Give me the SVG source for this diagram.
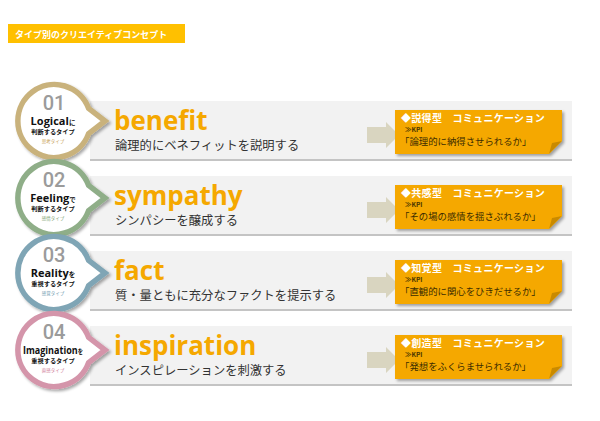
<svg xmlns="http://www.w3.org/2000/svg" width="600" height="421" viewBox="0 0 600 421">
<defs>
<filter id="sh" x="-20%" y="-20%" width="150%" height="150%">
<feGaussianBlur in="SourceAlpha" stdDeviation="1.5"/>
<feOffset dx="2" dy="2" result="b"/>
<feComponentTransfer><feFuncA type="linear" slope="0.35"/></feComponentTransfer>
<feMerge><feMergeNode/><feMergeNode in="SourceGraphic"/></feMerge>
</filter>
<path id="bubble" d="M88.6 108.4 A36.5 36.5 0 1 0 88.6 133.6 L105 121 Z"/>
<path id="arrow" d="M367 127 L386 127 L386 122 L399 135 L386 148 L386 143 L367 143 Z"/>
<path id="box" d="M395 110 H562 V141 L549 154 H395 Z"/>
<path id="fold" d="M562 141 L549 154 L552 143 Z"/>
</defs>
<style>
.bar{fill:#f2f2f2}
.barline{fill:#c4c4c4}
.bub{fill:#fff;stroke-width:5.5;filter:url(#sh)}
.num{font-family:Roboto,"DejaVu Sans",sans-serif;font-weight:500;font-size:20px;fill:#9b9b9b;text-anchor:middle}
.en{font-family:"Open Sans","Noto Sans CJK JP",sans-serif;font-weight:700;font-size:11px;fill:#111;text-anchor:middle}
.jp{font-family:"Noto Sans CJK JP",sans-serif;font-weight:700;fill:#111}
.sm{font-family:"Noto Sans CJK JP",sans-serif;font-weight:700;font-size:6.2px;fill:#111;text-anchor:middle}
.cap{font-family:"Noto Sans CJK JP",sans-serif;font-size:4.5px;text-anchor:middle}
.head{font-family:"Open Sans","Liberation Sans",sans-serif;font-weight:700;font-size:26px;fill:#f5a800}
.sub{font-family:"Noto Sans CJK JP",sans-serif;font-size:12.3px;fill:#333}
.arr{fill:#d9d5c0}
.box{fill:#f5a800;filter:url(#sh)}
.fold{fill:#c98a00}
.bt{font-family:"Noto Sans CJK JP",sans-serif;font-weight:700;font-size:10px;fill:#fff;letter-spacing:0.3px}
.kpi{font-family:"Noto Sans CJK JP",sans-serif;font-weight:700;font-size:6.5px;fill:#4a3500}
.q{font-family:"Noto Sans CJK JP",sans-serif;font-size:9.4px;fill:#3b2c00}
</style>
<rect x="0" y="0" width="600" height="421" fill="#fff"/>
<g id="title">
<rect x="8" y="24" width="177" height="19" fill="#ffc000"/>
<text x="15" y="38" font-family="'Noto Sans CJK JP',sans-serif" font-weight="700" font-size="9" fill="#fff">タイプ別のクリエイティブコンセプト</text>
</g>
<g id="row1">
<rect class="bar" x="90" y="101" width="482" height="58"/>
<rect class="barline" x="90" y="159" width="482" height="2"/>
<g id="circle1">
<use href="#bubble" class="bub" stroke="#c9b27c"/>
<text class="num" x="54" y="110">01</text>
<text class="en" x="53" y="125">Logical<tspan class="jp" font-size="6.5">に</tspan></text>
<text class="sm" x="53" y="134">判断するタイプ</text>
<text class="cap" x="53" y="143" fill="#c9a45c">思考タイプ</text>
</g>
<text class="head" x="114" y="130">benefit</text>
<text class="sub" x="115" y="150">論理的にベネフィットを説明する</text>
<use href="#arrow" class="arr"/>
<use href="#box" class="box"/>
<use href="#fold" class="fold"/>
<text class="bt" x="401" y="122">◆説得型　コミュニケーション</text>
<text class="kpi" x="405" y="132">≫KPI</text>
<text class="q" x="400" y="145">「論理的に納得させられるか」</text>
</g>
<g id="row2" transform="translate(0,75)">
<rect class="bar" x="90" y="101" width="482" height="58"/>
<rect class="barline" x="90" y="159" width="482" height="2"/>
<g id="circle2" transform="translate(0,2)">
<use href="#bubble" class="bub" stroke="#8fae88"/>
<text class="num" x="54" y="110">02</text>
<text class="en" x="53" y="125">Feeling<tspan class="jp" font-size="6.5">で</tspan></text>
<text class="sm" x="53" y="134">判断するタイプ</text>
<text class="cap" x="53" y="143" fill="#7fa676">感情タイプ</text>
</g>
<text class="head" x="114" y="130">sympathy</text>
<text class="sub" x="115" y="150">シンパシーを醸成する</text>
<use href="#arrow" class="arr"/>
<use href="#box" class="box"/>
<use href="#fold" class="fold"/>
<text class="bt" x="401" y="122">◆共感型　コミュニケーション</text>
<text class="kpi" x="405" y="132">≫KPI</text>
<text class="q" x="400" y="145">「その場の感情を揺さぶれるか」</text>
</g>
<g id="row3" transform="translate(0,150)">
<rect class="bar" x="90" y="101" width="482" height="58"/>
<rect class="barline" x="90" y="159" width="482" height="2"/>
<g id="circle3" transform="translate(0,2)">
<use href="#bubble" class="bub" stroke="#7fa5b5"/>
<text class="num" x="54" y="110">03</text>
<text class="en" x="53" y="125">Reality<tspan class="jp" font-size="6.5">を</tspan></text>
<text class="sm" x="53" y="134">重視するタイプ</text>
<text class="cap" x="53" y="143" fill="#6f9cb0">感覚タイプ</text>
</g>
<text class="head" x="114" y="130">fact</text>
<text class="sub" x="115" y="150">質・量ともに充分なファクトを提示する</text>
<use href="#arrow" class="arr"/>
<use href="#box" class="box"/>
<use href="#fold" class="fold"/>
<text class="bt" x="401" y="122">◆知覚型　コミュニケーション</text>
<text class="kpi" x="405" y="132">≫KPI</text>
<text class="q" x="400" y="145">「直観的に関心をひきだせるか」</text>
</g>
<g id="row4" transform="translate(0,225)">
<rect class="bar" x="90" y="101" width="482" height="58"/>
<rect class="barline" x="90" y="159" width="482" height="2"/>
<g id="circle4" transform="translate(0,4)">
<use href="#bubble" class="bub" stroke="#d495aa"/>
<text class="num" x="54" y="110">04</text>
<text class="en" x="53" y="125" textLength="60" lengthAdjust="spacingAndGlyphs">Imagination<tspan class="jp" font-size="6.5">を</tspan></text>
<text class="sm" x="53" y="134">重視するタイプ</text>
<text class="cap" x="53" y="143" fill="#d07d98">直感タイプ</text>
</g>
<text class="head" x="114" y="130">inspiration</text>
<text class="sub" x="115" y="150">インスピレーションを刺激する</text>
<use href="#arrow" class="arr"/>
<use href="#box" class="box"/>
<use href="#fold" class="fold"/>
<text class="bt" x="401" y="122">◆創造型　コミュニケーション</text>
<text class="kpi" x="405" y="132">≫KPI</text>
<text class="q" x="400" y="145">「発想をふくらませられるか」</text>
</g>
<g id="connectors"></g>
</svg>
